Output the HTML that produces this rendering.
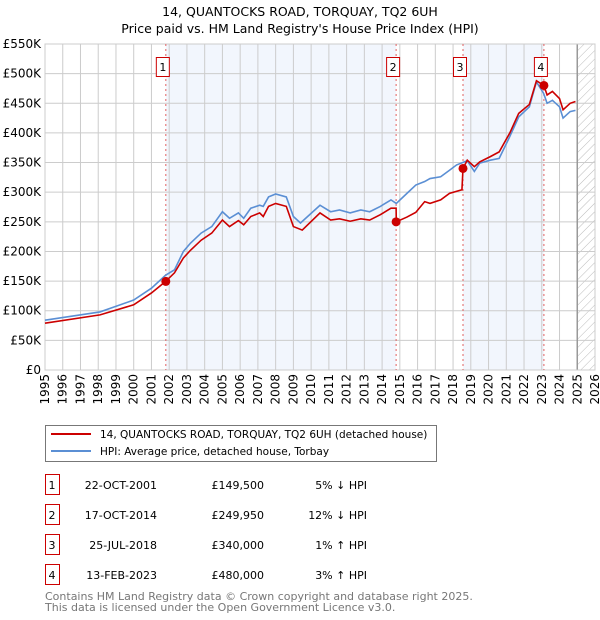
<!DOCTYPE html>
<html><head><meta charset="utf-8"><style>
body{margin:0;background:#fff}
svg{display:block;font-family:"DejaVu Sans","Liberation Sans",sans-serif}
</style></head><body>
<svg id="chart" width="600" height="620" viewBox="0 0 600 620" xmlns="http://www.w3.org/2000/svg">
<defs>
<pattern id="hatch" patternUnits="userSpaceOnUse" width="6" height="6" patternTransform="rotate(45)">
<line x1="0" y1="0" x2="0" y2="6" stroke="#bbb" stroke-width="1"/>
</pattern>
</defs>
<text x="300" y="16" text-anchor="middle" font-size="12.5">14, QUANTOCKS ROAD, TORQUAY, TQ2 6UH</text>
<text x="300" y="33" text-anchor="middle" font-size="12.5">Price paid vs. HM Land Registry's House Price Index (HPI)</text>
<g id="plot"></g>
<g>
<rect x="45.5" y="425.5" width="391" height="36" fill="#fff" stroke="#777"/>
<line x1="51" y1="434" x2="91" y2="434" stroke="#cc0000" stroke-width="2"/>
<text x="100" y="438" font-size="10.5">14, QUANTOCKS ROAD, TORQUAY, TQ2 6UH (detached house)</text>
<line x1="51" y1="451" x2="91" y2="451" stroke="#5b8fd4" stroke-width="2"/>
<text x="100" y="455" font-size="10.5">HPI: Average price, detached house, Torbay</text>
</g>
<g id="table" font-size="11"></g>
<text x="45" y="600" font-size="11" fill="#777">Contains HM Land Registry data © Crown copyright and database right 2025.</text>
<text x="45" y="611" font-size="11" fill="#777">This data is licensed under the Open Government Licence v3.0.</text>
</svg>
<script>
const hpiYears=[1995.0,1998.1,2000.0,2001.0,2001.8,2002.3,2002.8,2003.2,2003.8,2004.4,2005.0,2005.4,2005.9,2006.2,2006.6,2007.1,2007.3,2007.6,2008.0,2008.6,2009.0,2009.4,2010.5,2011.1,2011.6,2012.2,2012.8,2013.3,2013.9,2014.5,2014.8,2015.4,2015.9,2016.4,2016.7,2017.3,2017.8,2018.2,2018.8,2019.2,2019.5,2020.1,2020.6,2021.2,2021.7,2022.3,2022.7,2023.1,2023.3,2023.6,2024.0,2024.2,2024.6,2024.9];
const hpiValues=[84,98,118,138,160,169,200,214,231,242,267,256,265,256,273,278,276,292,297,292,259,248,278,267,270,265,270,267,276,287,281,298,312,318,323,326,337,346,353,335,349,354,357,394,427,444,486,467,450,455,444,425,436,438];
const redYears=[1995.0,1998.1,2000.0,2001.0,2001.8,2002.3,2002.8,2003.2,2003.8,2004.4,2005.0,2005.4,2005.9,2006.2,2006.6,2007.1,2007.3,2007.6,2008.0,2008.6,2009.0,2009.5,2010.5,2011.1,2011.6,2012.2,2012.8,2013.3,2013.9,2014.5,2014.79,2014.8,2015.4,2015.9,2016.4,2016.7,2017.3,2017.8,2018.5,2018.56,2018.8,2019.2,2019.5,2020.1,2020.6,2021.2,2021.7,2022.3,2022.7,2023.12,2023.3,2023.6,2024.0,2024.2,2024.6,2024.9];
const redValues=[79,93,110,130,149.5,164,189,202,219,231,253,242,252,245,259,265,259,276,281,276,242,236,265,253,255,251,255,253,262,273,273,250,258,266,284,281,287,298,304,340,354,343,351,360,368,400,433,448,488,480,464,470,458,439,450,453];
const saleYears=[2001.81,2014.79,2018.56,2023.12];
const saleValues=[149500,249950,340000,480000];
const saleLabels=["1","2","3","4"];
const saleDates=["22-OCT-2001","17-OCT-2014","25-JUL-2018","13-FEB-2023"];
const salePrices=["£149,500","£249,950","£340,000","£480,000"];
const saleHpi=["5% ↓ HPI","12% ↓ HPI","1% ↑ HPI","3% ↑ HPI"];
const yTicks=[0,50,100,150,200,250,300,350,400,450,500,550];
const xTicks=[1995,1996,1997,1998,1999,2000,2001,2002,2003,2004,2005,2006,2007,2008,2009,2010,2011,2012,2013,2014,2015,2016,2017,2018,2019,2020,2021,2022,2023,2024,2025,2026];

const L=45,R=595,T=44,B=370;
const x=y=>L+(y-1995)/(2026-1995)*(R-L);
const yv=v=>B-v/550*(B-T);
const NS='http://www.w3.org/2000/svg';
const plot=document.getElementById('plot');
function mk(tag,attrs,parent){const e=document.createElementNS(NS,tag);for(const k in attrs)e.setAttribute(k,attrs[k]);(parent||plot).appendChild(e);return e;}

for(let i=0;i<saleYears.length-1;i+=2){
  const r=mk('rect',{x:x(saleYears[i]),y:T,width:x(saleYears[i+1])-x(saleYears[i]),height:B-T,fill:'#eef3fc',opacity:0.75});
  
  
}
const h=mk('rect',{x:x(2025.0),y:T,width:R-x(2025.0),height:B-T,fill:'url(#hatch)'});


yTicks.forEach(t=>{
  const g=mk('line',{x1:L,x2:R,y1:yv(t),y2:yv(t),stroke:'#ccc','stroke-width':1});
  
  
  const tx=mk('text',{x:L-4,y:yv(t)+4,'text-anchor':'end','font-size':12});
  tx.textContent=t===0?'£0':'£'+t+'K';
  
  
});
xTicks.forEach(t=>{
  const g=mk('line',{x1:x(t),x2:x(t),y1:T,y2:B,stroke:'#ccc','stroke-width':1});
  
  
  const tx=mk('text',{x:0,y:0,'text-anchor':'end','font-size':12,transform:`translate(${x(t)+4},374) rotate(-90)`});
  tx.textContent=t;
  
  
});
const fl=mk('line',{x1:x(2025.0),x2:x(2025.0),y1:T,y2:B,stroke:'#999','stroke-width':1.5});


const fr=mk('rect',{x:L,y:T,width:R-L,height:B-T,fill:'none',stroke:'#ccc'});


saleYears.forEach((s,i)=>{
  const l=mk('line',{x1:x(s),x2:x(s),y1:T,y2:B,stroke:'#e06060','stroke-width':1,'stroke-dasharray':'2,3'});
  
  
  const b=mk('rect',{x:x(s)-10+0.5,y:57.5,width:13,height:19,fill:'#fff',stroke:'#cc0000'});
  
  
  const t=mk('text',{x:x(s)-3,y:71,'text-anchor':'middle','font-size':11});
  t.textContent=saleLabels[i];
  
  
});
const hp=mk('polyline',{points:hpiYears.map((d,i)=>x(d)+','+yv(hpiValues[i])).join(' '),fill:'none',stroke:'#5b8fd4','stroke-width':1.6});


const rp=mk('polyline',{points:redYears.map((d,i)=>x(d)+','+yv(redValues[i])).join(' '),fill:'none',stroke:'#cc0000','stroke-width':1.6});


saleYears.forEach((s,i)=>{
  const c=mk('circle',{cx:x(s),cy:yv(saleValues[i]/1000),r:4.5,fill:'#cc0000'});
  
  
});
const tbl=document.getElementById('table');
saleLabels.forEach((lab,i)=>{
  const cy=[485,515,545,575][i];
  const b=mk('rect',{x:45.5,y:cy-10.5,width:14,height:20,fill:'#fff',stroke:'#cc0000'},tbl);
  
  
  const cells=[[52,lab,'middle'],[157,saleDates[i],'end'],[264,salePrices[i],'end'],[367,saleHpi[i],'end']];
  cells.forEach(c=>{
    const t=mk('text',{x:c[0],y:cy+4,'text-anchor':c[2]},tbl);
    t.textContent=c[1];
    
    
  });
});
</script>
</body></html>
